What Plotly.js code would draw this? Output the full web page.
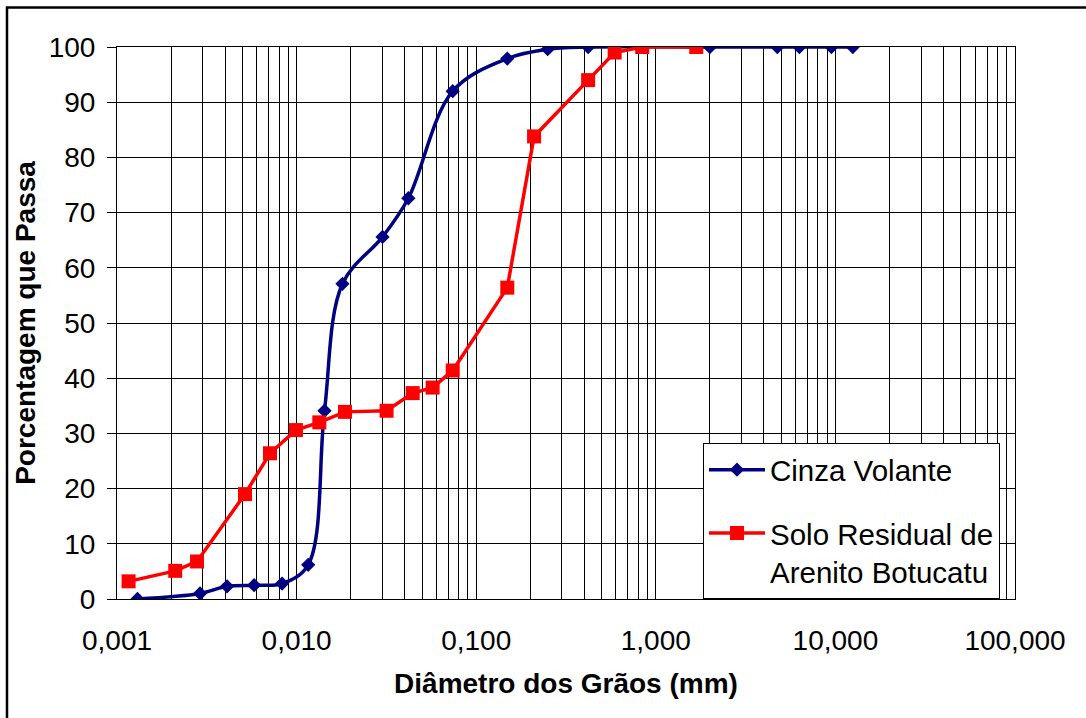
<!DOCTYPE html>
<html>
<head>
<meta charset="utf-8">
<script src="https://cdn.plot.ly/plotly-3.0.1.min.js"></script>
<style>
  html, body { margin: 0; padding: 0; background: #fff; }
  #chart { width: 1086px; height: 718px; }
</style>
</head>
<body>
<div id="chart"></div>
<script>
// Curvas granulométricas: diâmetro (mm) x porcentagem que passa (%)
const diamCinza = [0.0013, 0.0029, 0.0041, 0.0058, 0.0083, 0.0116, 0.0143, 0.0180, 0.0301, 0.0419,
                   0.074, 0.149, 0.25, 0.42, 2.0, 4.75, 6.3, 9.5, 12.5];
const passaCinza = [0, 1.0, 2.3, 2.5, 2.8, 6.2, 34.1, 57.1, 65.6, 72.6,
                    92.0, 97.9, 99.6, 100, 100, 100, 100, 100, 100];

const diamSolo = [0.00116, 0.00211, 0.00279, 0.00516, 0.00711, 0.00992, 0.01338, 0.0186, 0.0317,
                  0.0443, 0.0572, 0.074, 0.149, 0.21, 0.42, 0.59, 0.84, 1.68];
const passaSolo = [3.2, 5.1, 6.8, 19.0, 26.4, 30.6, 32.0, 33.9, 34.1,
                   37.3, 38.3, 41.4, 56.4, 83.8, 94.0, 99.0, 100, 100];

const nomes = ['Cinza Volante', 'Solo Residual de<br>Arenito Botucatu'];

const xTickVals = [0.001, 0.01, 0.1, 1, 10, 100];
const xTickText = ['0,001', '0,010', '0,100', '1,000', '10,000', '100,000'];
const yTickVals = [0, 10, 20, 30, 40, 50, 60, 70, 80, 90, 100];

// Linhas de grade secundárias (2..9 de cada década)
const minorVals = [];
for (let e = -3; e < 2; e++) {
  for (let m = 2; m <= 9; m++) minorVals.push(m * Math.pow(10, e));
}

const FONT = 'Liberation Sans, Arial, sans-serif';
const M = { l: 117, r: 71, t: 47, b: 119 };
const W = 1086, H = 718;
const PW = W - M.l - M.r, PH = H - M.t - M.b;
const px = v => (v - M.l) / PW;
const py = v => (H - M.b - v) / PH;

const traces = [
  {
    x: diamCinza, y: passaCinza, name: nomes[0], type: 'scatter', mode: 'lines+markers',
    line: { color: '#000080', width: 3.5, shape: 'spline', smoothing: 1 },
    marker: { symbol: 'diamond', size: 11, color: '#000080' },
    legendgroup: 'a'
  },
  {
    x: diamSolo, y: passaSolo, name: nomes[1], type: 'scatter', mode: 'lines+markers',
    line: { color: '#FF0000', width: 3.5 },
    marker: { symbol: 'square', size: 14, color: '#FF0000' },
    legendgroup: 'b'
  }
];

const layout = {
  width: W, height: H,
  margin: M,
  paper_bgcolor: '#fff', plot_bgcolor: '#fff',
  font: { family: FONT, size: 28, color: '#000' },
  showlegend: true,
  legend: {
    x: px(703), y: py(443), xanchor: 'left', yanchor: 'top',
    bgcolor: '#fff', bordercolor: '#000', borderwidth: 1,
    font: { family: FONT, size: 29.5, color: '#000' },
    tracegroupgap: 22, traceorder: 'grouped', valign: 'top',
    itemwidth: 56
  },
  xaxis: {
    type: 'log', range: [-3, 2],
    tickmode: 'array', tickvals: xTickVals, ticktext: xTickText,
    ticks: '', showline: true, mirror: true, linecolor: '#000', linewidth: 1,
    showgrid: true, gridcolor: '#000', gridwidth: 1,
    minor: { tickmode: 'array', tickvals: minorVals, showgrid: true, gridcolor: '#000', gridwidth: 1, ticks: '' },
    tickfont: { family: FONT, size: 28, color: '#000' },
    ticklabelstandoff: 16,
    zeroline: false,
    title: { text: '<b>Diâmetro dos Grãos (mm)</b>', font: { family: FONT, size: 28, color: '#000' }, standoff: 18 }
  },
  yaxis: {
    range: [0, 100], tickmode: 'array', tickvals: yTickVals,
    ticks: 'outside', ticklen: 9, tickcolor: '#000', tickwidth: 1,
    showline: true, mirror: true, linecolor: '#000', linewidth: 1,
    showgrid: true, gridcolor: '#000', gridwidth: 1,
    tickfont: { family: FONT, size: 28, color: '#000' },
    ticklabelstandoff: 6,
    zeroline: false,
    title: { text: '<b>Porcentagem que Passa</b>', font: { family: FONT, size: 28, color: '#000' }, standoff: 4 }
  },
  shapes: [
    {
      type: 'rect', xref: 'paper', yref: 'paper',
      x0: px(7), x1: px(W + 20), y0: py(H + 20), y1: py(7.5),
      line: { color: '#000', width: 2.5 }, fillcolor: 'rgba(0,0,0,0)', layer: 'above'
    }
  ]
};

Plotly.newPlot('chart', traces, layout, { displayModeBar: false, staticPlot: true });
</script>
</body>
</html>
